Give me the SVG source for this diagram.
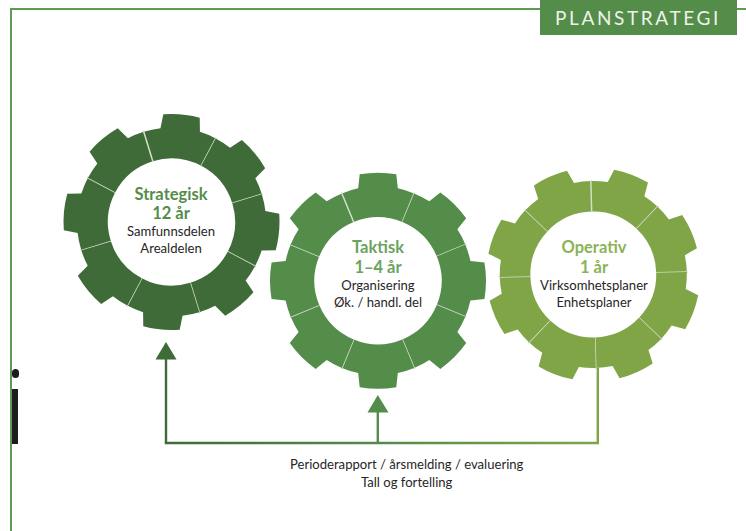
<svg xmlns="http://www.w3.org/2000/svg" xmlns:xlink="http://www.w3.org/1999/xlink" width="746" height="531" viewBox="0 0 746 531">
<style>
text{font-family:"Lato","Liberation Sans",sans-serif;text-anchor:middle}
.t{font-size:16.5px;font-weight:700}
.s{font-size:13.1px;fill:#262626}
.sep{stroke:#d3dfcd;stroke-width:1.5;fill:none}
.frame{stroke:#5f9a54;stroke-width:2;fill:none}
.conn{stroke-width:2.4;fill:none}
</style>
<defs>
<linearGradient id="bar" gradientUnits="userSpaceOnUse" x1="166" y1="0" x2="598" y2="0">
<stop offset="0" stop-color="#3e6b37"/><stop offset="0.5" stop-color="#548c4a"/><stop offset="1" stop-color="#7fa547"/>
</linearGradient>
<g id="seg">
<path d="M-36.16-87.31A94.5 94.5 0 0 1-19.81-92.4L-18.29-106.44A108 108 0 0 1 18.29-106.44L19.81-92.4A94.5 94.5 0 0 1 36.16-87.31L24.34-58.76A63.6 63.6 0 0 0-24.34-58.76Z"/>
<line class="sep" x1="24.34" y1="-58.76" x2="36.6" y2="-88.4"/>
</g>
<g id="gear">
<use xlink:href="#seg" href="#seg"/>
<use xlink:href="#seg" href="#seg" transform="rotate(45)"/>
<use xlink:href="#seg" href="#seg" transform="rotate(90)"/>
<use xlink:href="#seg" href="#seg" transform="rotate(135)"/>
<use xlink:href="#seg" href="#seg" transform="rotate(180)"/>
<use xlink:href="#seg" href="#seg" transform="rotate(225)"/>
<use xlink:href="#seg" href="#seg" transform="rotate(270)"/>
<use xlink:href="#seg" href="#seg" transform="rotate(315)"/>
</g>
</defs>
<rect width="746" height="531" fill="#fff"/>
<path class="frame" d="M11 531V9H540M737 9H746"/>
<g id="title">
<rect x="540" y="0" width="197" height="35" fill="#548c4a"/>
<text x="638" y="24.5" font-size="19" letter-spacing="2.6" fill="#eef3ea">PLANSTRATEGI</text>
</g>
<g id="mark" fill="#1c1c1a">
<rect x="12" y="369" width="7" height="9" rx="3.5"/>
<rect x="12" y="389" width="6" height="55"/>
</g>
<g id="connectors">
<path class="conn" stroke="#3e6b37" d="M166 443V358"/>
<polygon fill="#3e6b37" points="166,342 176.5,359.5 155.5,359.5"/>
<path class="conn" stroke="#548c4a" d="M377.8 443V411"/>
<polygon fill="#548c4a" points="377.8,395 388.5,412.5 367.5,412.5"/>
<path class="conn" stroke="#7fa547" d="M597.8 368V443"/>
<path class="conn" stroke="url(#bar)" d="M164.8 443H599"/>
</g>
<g id="gear-strategisk">
<use xlink:href="#gear" href="#gear" fill="#3e6b37" transform="translate(171.5 222) rotate(5.4)"/>
<text class="t" x="171" y="200" fill="#548c4a">Strategisk</text>
<text class="t" x="171" y="219.3" fill="#548c4a">12 år</text>
<text class="s" x="171" y="236">Samfunnsdelen</text>
<text class="s" x="171" y="252.7">Arealdelen</text>
</g>
<g id="gear-taktisk">
<use xlink:href="#gear" href="#gear" fill="#548c4a" transform="translate(378 280.7)"/>
<text class="t" x="378" y="253.3" fill="#6aa35e">Taktisk</text>
<text class="t" x="378" y="272.7" fill="#6aa35e">1–4 år</text>
<text class="s" x="378" y="290">Organisering</text>
<text class="s" x="378" y="306.7">Øk. / handl. del</text>
</g>
<g id="gear-operativ">
<use xlink:href="#gear" href="#gear" fill="#7fa547" transform="translate(593.3 274.5) rotate(21) scale(.99)"/>
<text class="t" x="594" y="253.3" fill="#8ab356">Operativ</text>
<text class="t" x="594" y="272.7" fill="#8ab356">1 år</text>
<text class="s" x="594" y="290">Virksomhetsplaner</text>
<text class="s" x="594" y="306.5">Enhetsplaner</text>
</g>
<g id="caption">
<text class="s" x="406.7" y="469.3">Perioderapport / årsmelding / evaluering</text>
<text class="s" x="406.7" y="486.7">Tall og fortelling</text>
</g>
</svg>
